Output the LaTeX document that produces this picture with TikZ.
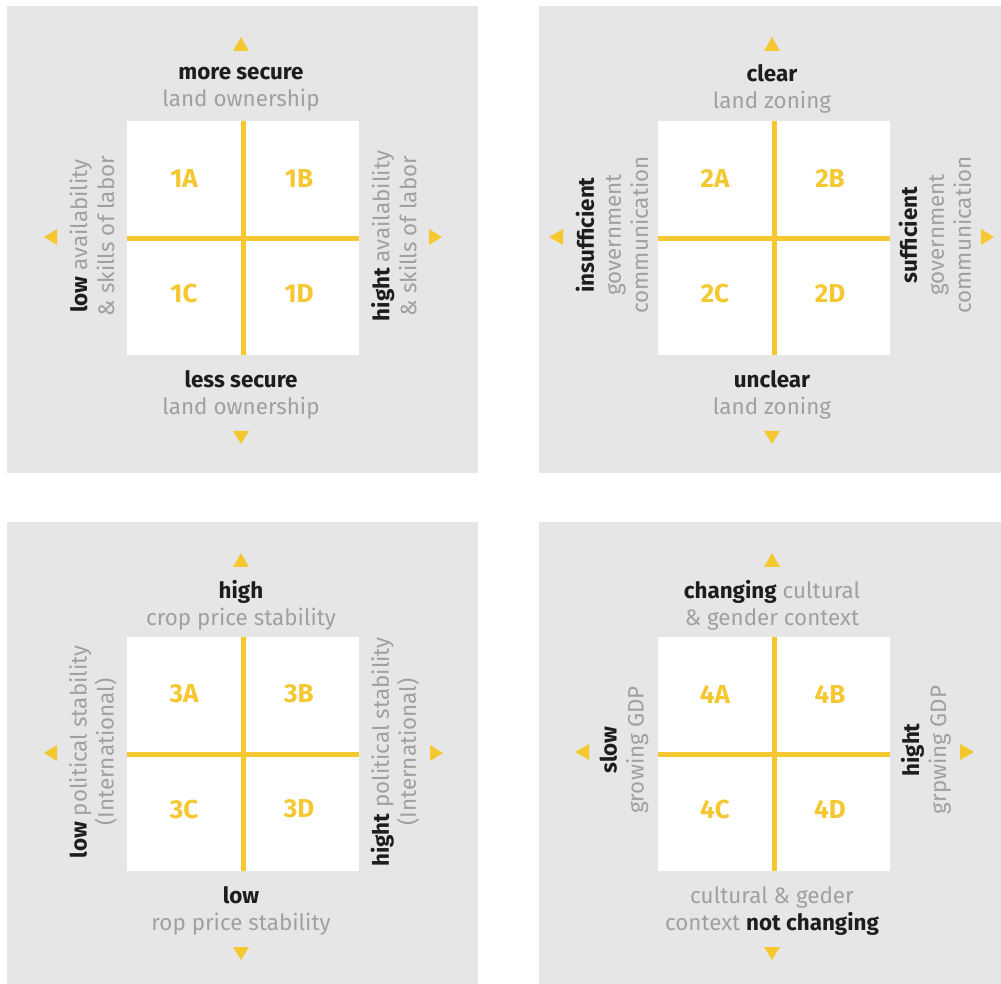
\documentclass[tikz,border=0pt]{standalone}
\usepackage{fontspec}
\setmainfont{Fira Sans}
\definecolor{bg}{HTML}{E6E6E6}
\definecolor{ylw}{HTML}{F5C832}
\definecolor{dk}{HTML}{1D1D1B}
\definecolor{lt}{HTML}{A0A0A0}
\newcommand{\dkb}[1]{\textcolor{dk}{\bfseries #1}}
\begin{document}
\begin{tikzpicture}[x=0.75pt,y=-0.75pt,
 panel/.style={fill=bg},
 axis/.style={draw=ylw,line width=3.75pt},
 tri/.style={fill=ylw},
 lab/.style={font=\fontsize{16.8}{20.25}\selectfont,align=center,text=lt,inner sep=0pt},
 side/.style={lab,rotate=90},
 quad/.style={font=\fontsize{19.5}{22}\selectfont\bfseries,text=ylw,inner sep=0pt},
]
\newcommand{\quadgrid}[3]{%
\begin{scope}[shift={(#2,#3)}]
\fill[white] (127,121) rectangle (359,355);
\draw[axis] (243.5,121) -- (243.5,355);
\draw[axis] (127,238.5) -- (359,238.5);
\node[quad] (q#1A) at (184,178) {#1A};
\node[quad] (q#1B) at (299,178) {#1B};
\node[quad] (q#1C) at (184,293) {#1C};
\node[quad] (q#1D) at (299,293) {#1D};
\fill[tri] (241,37) -- (249,51) -- (233,51) -- cycle;
\fill[tri] (241,444) -- (249,431) -- (233,431) -- cycle;
\end{scope}}
\useasboundingbox (0,0) rectangle (1001,984);
% panels
\fill[panel] (7,6) rectangle (478,473);
\fill[panel] (539,6) rectangle (1001,473);
\fill[panel] (7,522) rectangle (478,984);
\fill[panel] (539,522) rectangle (1001,984);
\quadgrid{1}{0}{0}
\quadgrid{2}{531}{0}
\quadgrid{3}{0}{516}
\quadgrid{4}{531}{516}
% side arrows
\fill[tri] (44,237) -- (57,229) -- (57,245) -- cycle;
\fill[tri] (442,237) -- (429,229) -- (429,245) -- cycle;
\fill[tri] (549,237) -- (563,229) -- (563,245) -- cycle;
\fill[tri] (994,237) -- (981,229) -- (981,245) -- cycle;
\fill[tri] (44,753) -- (57,745) -- (57,761) -- cycle;
\fill[tri] (443,753) -- (430,745) -- (430,761) -- cycle;
\fill[tri] (575,752) -- (589,744) -- (589,760) -- cycle;
\fill[tri] (974,752) -- (960,744) -- (960,760) -- cycle;
% panel 1
\node[lab] (t1) at (241,89) {\dkb{more secure}\\land ownership};
\node[lab] (b1) at (241,395) {\dkb{less secure}\\land ownership};
\node[side] (l1) at (92,236) {\dkb{low} availability\\\& skills of labor};
\node[side] (r1) at (394,236) {\dkb{hight} availability\\\& skills of labor};
% panel 2
\node[lab] (t2) at (772,89) {\dkb{clear}\\land zoning};
\node[lab] (b2) at (772,395) {\dkb{unclear}\\land zoning};
\node[side] (l2) at (612,235) {\dkb{insufficient}\\government\\communication};
\node[side] (r2) at (935,235) {\dkb{sufficient}\\government\\communication};
% panel 3
\node[lab] (t3) at (241,605) {\dkb{high}\\crop price stability};
\node[lab] (b3) at (241,911) {\dkb{low}\\rop price stability};
\node[side] (l3) at (93,752) {\dkb{low} political stability\\(International)};
\node[side] (r3) at (395,752) {\dkb{hight} political stability\\(International)};
% panel 4
\node[lab] (t4) at (772,605) {\dkb{changing} cultural\\\& gender context};
\node[lab] (b4) at (772,911) {cultural \& geder\\context \dkb{not changing}};
\node[side] (l4) at (624,750) {\dkb{slow}\\growing GDP};
\node[side] (r4) at (926,750) {\dkb{hight}\\grpwing GDP};
\end{tikzpicture}
\end{document}
